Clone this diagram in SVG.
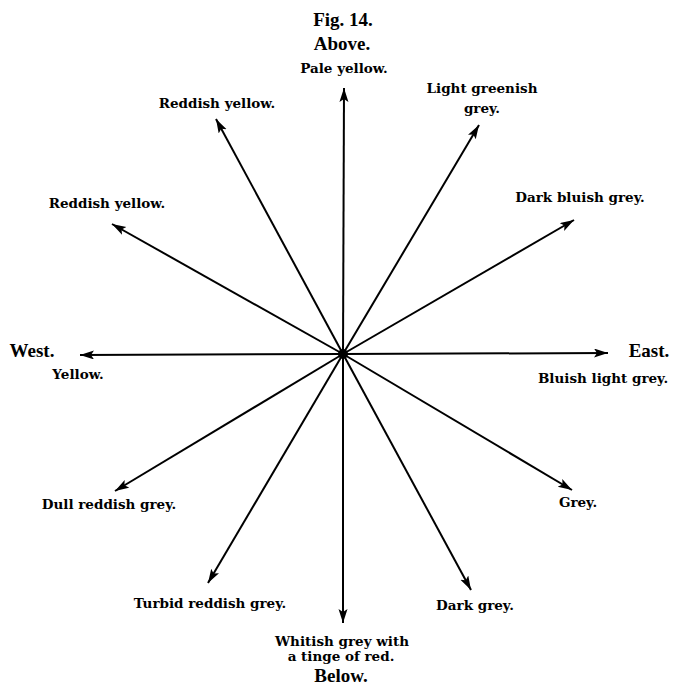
<svg xmlns="http://www.w3.org/2000/svg" width="675" height="686" viewBox="0 0 675 686">
<style>
.head{font-family:"Liberation Serif","Times New Roman",serif;font-weight:bold;font-size:19px;fill:#000;}
.lbl{font-family:"DejaVu Serif","Liberation Serif",serif;font-weight:bold;font-size:13.5px;fill:#000;}
.ray{stroke:#000;stroke-width:2;fill:none;marker-end:url(#ah);}
</style>
<defs>
<marker id="ah" markerUnits="userSpaceOnUse" markerWidth="16" markerHeight="10" refX="14" refY="4.5" orient="auto">
<path d="M0,0 L14,4.5 L0,9 L3,4.5 z" fill="#000"/>
</marker>
</defs>
<rect width="675" height="686" fill="#fff"/>
<g id="titles">
<text class="head" x="343" y="26" text-anchor="middle" font-size="20">Fig. 14.</text>
<text class="head" x="342" y="50" text-anchor="middle">Above.</text>
<text class="head" x="32" y="357" text-anchor="middle">West.</text>
<text class="head" x="649" y="357" text-anchor="middle">East.</text>
<text class="head" x="341" y="682" text-anchor="middle">Below.</text>
</g>
<g id="connectors">
<line class="ray" x1="343" y1="354" x2="344" y2="88"/>
<line class="ray" x1="343" y1="354" x2="216" y2="119"/>
<line class="ray" x1="343" y1="354" x2="112" y2="224"/>
<line class="ray" x1="343" y1="354" x2="80" y2="355"/>
<line class="ray" x1="343" y1="354" x2="115" y2="491"/>
<line class="ray" x1="343" y1="354" x2="208" y2="583"/>
<line class="ray" x1="343" y1="354" x2="343" y2="623"/>
<line class="ray" x1="343" y1="354" x2="471" y2="590"/>
<line class="ray" x1="343" y1="354" x2="572" y2="490"/>
<line class="ray" x1="343" y1="354" x2="608" y2="353"/>
<line class="ray" x1="343" y1="354" x2="574" y2="220"/>
<line class="ray" x1="343" y1="354" x2="479" y2="125"/>
<circle cx="343" cy="354" r="5" fill="#000"/>
</g>
<g id="n-above"><text class="lbl" x="344" y="73" text-anchor="middle">Pale yellow.</text></g>
<g id="n-upper-left"><text class="lbl" x="217" y="108" text-anchor="middle">Reddish yellow.</text></g>
<g id="n-left-upper"><text class="lbl" x="107" y="208" text-anchor="middle">Reddish yellow.</text></g>
<g id="n-west"><text class="lbl" x="78" y="379" text-anchor="middle">Yellow.</text></g>
<g id="n-left-lower"><text class="lbl" x="109" y="509" text-anchor="middle">Dull reddish grey.</text></g>
<g id="n-lower-left"><text class="lbl" x="210" y="608" text-anchor="middle">Turbid reddish grey.</text></g>
<g id="n-below"><text class="lbl" x="342" y="646" text-anchor="middle">Whitish grey with</text><text class="lbl" x="341" y="661" text-anchor="middle">a tinge of red.</text></g>
<g id="n-lower-right"><text class="lbl" x="475" y="610" text-anchor="middle">Dark grey.</text></g>
<g id="n-right-lower"><text class="lbl" x="578" y="507" text-anchor="middle">Grey.</text></g>
<g id="n-east"><text class="lbl" x="603" y="383" text-anchor="middle">Bluish light grey.</text></g>
<g id="n-right-upper"><text class="lbl" x="580" y="202" text-anchor="middle">Dark bluish grey.</text></g>
<g id="n-upper-right"><text class="lbl" x="482" y="93" text-anchor="middle">Light greenish</text><text class="lbl" x="482" y="113" text-anchor="middle">grey.</text></g>
</svg>
